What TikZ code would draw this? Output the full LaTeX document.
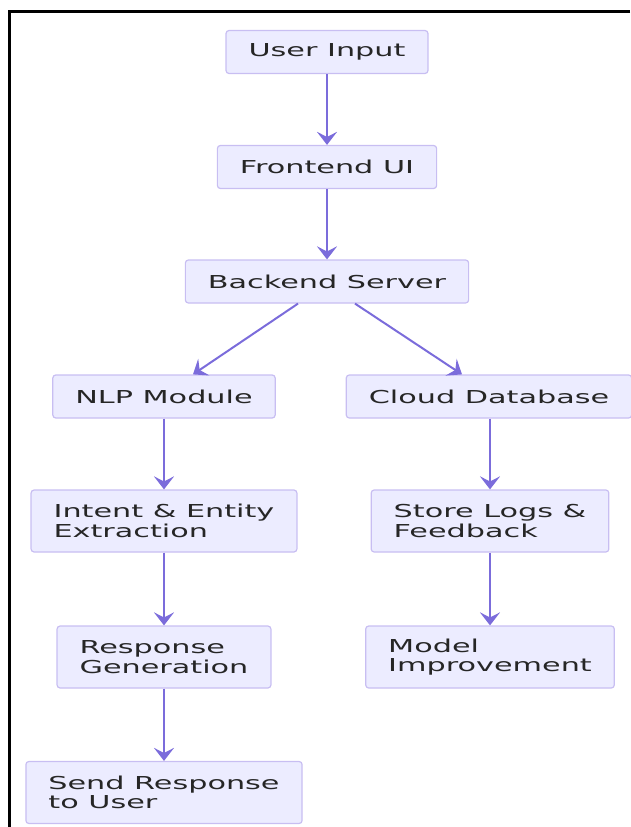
\documentclass[tikz,border=0pt]{standalone}
\usepackage{fontspec}
\setmainfont[FakeStretch=1.7]{DejaVu Sans}
\usetikzlibrary{arrows.meta,positioning}

\definecolor{boxfill}{HTML}{ECECFF}
\definecolor{boxline}{HTML}{C8BEF2}
\definecolor{flowline}{HTML}{7B6CDB}
\definecolor{labeltext}{HTML}{262626}

\tikzset{
  stage/.style={draw=boxline, fill=boxfill, rounded corners=3pt, line width=1.2pt,
    inner xsep=22.5pt, inner ysep=0pt, minimum height=43pt, align=left, text=labeltext,
    font=\fontsize{17.8}{19.5}\selectfont},
  stage2/.style={stage, minimum height=62pt},
  flow/.style={-{Stealth[length=13pt,width=20pt,inset=5pt]}, draw=flowline, line width=2pt}
}

\begin{document}
\begin{tikzpicture}[x=1pt,y=-1pt]
    \useasboundingbox (0,0) rectangle (630,827);

    % Frame
    \draw[line width=3pt] (630,11) -- (9,11) -- (9,827);

    % Main chain
    \node[stage] (ui) at (327,52) {User Input};
    \node[stage] (fe) at (327,167) {Frontend UI};
    \node[stage] (bk) at (327,281.5) {Backend Server};

    % Left branch
    \node[stage] (nlp) at (164,396.5) {NLP Module};
    \node[stage2] (ie) at (164,521) {Intent \& Entity\\Extraction};
    \node[stage2] (rg) at (164,657) {Response\\Generation};
    \node[stage2] (sr) at (164,792.5) {Send Response\\to User};

    % Right branch
    \node[stage] (db) at (489,396.5) {Cloud Database};
    \node[stage2] (sl) at (490,521) {Store Logs \&\\Feedback};
    \node[stage2] (mi) at (490,657) {Model\\Improvement};

    % Arrows
    \draw[flow] (ui) -- (fe);
    \draw[flow] (fe) -- (bk);
    \draw[flow] ([xshift=-29pt]bk.south) -- ([xshift=29pt]nlp.north);
    \draw[flow] ([xshift=28pt]bk.south) -- ([xshift=-27pt]db.north);
    \draw[flow] (nlp) -- (ie);
    \draw[flow] (ie) -- (rg);
    \draw[flow] (rg) -- (sr);
    \draw[flow] ([xshift=1pt]db.south) -- (sl.north);
    \draw[flow] (sl) -- (mi);
\end{tikzpicture}
\end{document}
